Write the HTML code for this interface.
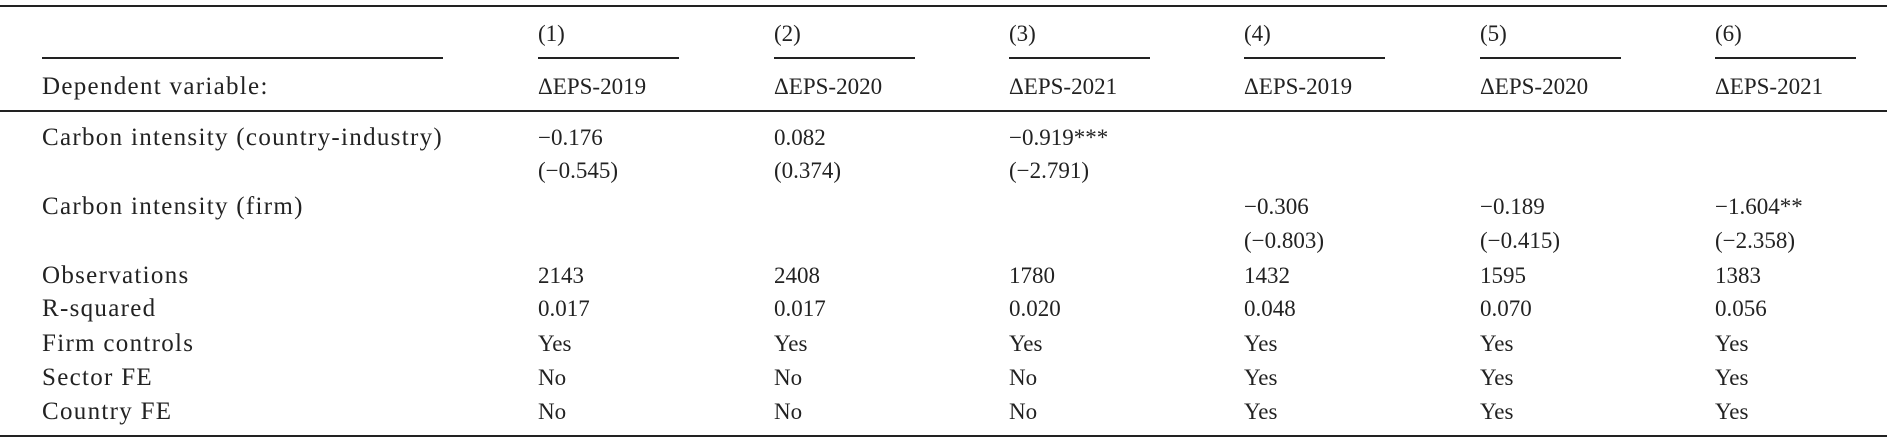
<!DOCTYPE html>
<html><head><meta charset="utf-8">
<style>
body{margin:0;background:#fff;width:1887px;height:438px;overflow:hidden;position:relative;font-family:"Liberation Serif",serif;font-size:23px;color:#222}
.t{position:absolute;line-height:26px;white-space:nowrap}
.lab{font-size:25px;letter-spacing:1.3px}
.r{position:absolute;background:#222}
</style></head><body>
<div class="r" style="left:0;top:5px;width:1887px;height:2px"></div>
<div class="r" style="left:42px;top:57px;width:401px;height:2px"></div>
<div class="r" style="left:0;top:110px;width:1887px;height:2px"></div>
<div class="r" style="left:0;top:435px;width:1887px;height:2px"></div>
<script>
const colX=[538,774,1009,1244,1480,1715];
const colNums=["(1)","(2)","(3)","(4)","(5)","(6)"];
const depVars=["ΔEPS-2019","ΔEPS-2020","ΔEPS-2021","ΔEPS-2019","ΔEPS-2020","ΔEPS-2021"];
const rowLabels=[["Dependent variable:",87],["Carbon intensity (country-industry)",138],["Carbon intensity (firm)",207],["Observations",276],["R-squared",309],["Firm controls",344],["Sector FE",378],["Country FE",412]];
const ciCoef=["−0.176","0.082","−0.919***","","",""];
const ciT=["(−0.545)","(0.374)","(−2.791)","","",""];
const firmCoef=["","","","−0.306","−0.189","−1.604**"];
const firmT=["","","","(−0.803)","(−0.415)","(−2.358)"];
const obs=["2143","2408","1780","1432","1595","1383"];
const r2=["0.017","0.017","0.020","0.048","0.070","0.056"];
const firmCtl=["Yes","Yes","Yes","Yes","Yes","Yes"];
const sectorFE=["No","No","No","Yes","Yes","Yes"];
const countryFE=["No","No","No","Yes","Yes","Yes"];
const c=document.body;
function txt(s,x,y,name,cls){const d=document.createElement('div');d.className='t'+(cls?' '+cls:'');d.textContent=s;d.style.left=x+'px';d.style.top=(y-13)+'px';


c.appendChild(d);}
rowLabels.forEach((r,i)=>txt(r[0],42,r[1],'row-label','lab'));
const rows=[[colNums,34,'column-number'],[depVars,87,'dependent-variable'],[ciCoef,138,'ci-country-coef'],[ciT,171,'ci-country-tstat'],[firmCoef,207,'ci-firm-coef'],[firmT,241,'ci-firm-tstat'],[obs,276,'observations'],[r2,309,'r-squared'],[firmCtl,344,'firm-controls'],[sectorFE,378,'sector-fe'],[countryFE,412,'country-fe']];
rows.forEach(([arr,y,n])=>arr.forEach((v,i)=>{if(v)txt(v,colX[i],y,n+'-'+(i+1));}));
colX.forEach((x,i)=>{const d=document.createElement('div');d.className='r';d.style.left=x+'px';d.style.top='57px';d.style.width='141px';d.style.height='2px';


c.appendChild(d);});
</script>
</body></html>
